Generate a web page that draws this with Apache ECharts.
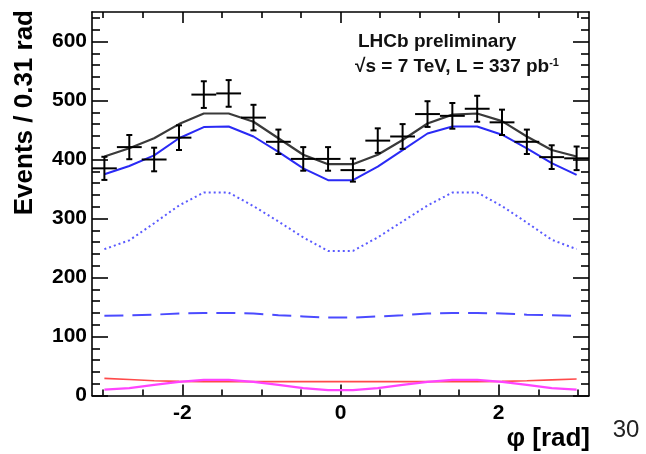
<!DOCTYPE html>
<html><head><meta charset="utf-8">
<script src="https://cdn.jsdelivr.net/npm/echarts@6/dist/echarts.min.js"></script>
<style>html,body{margin:0;padding:0;background:#fff}#c{width:646px;height:454px}</style>
</head><body><div id="c"></div>
<script>
const phiCenters = [-2.985,-2.670,-2.356,-2.042,-1.728,-1.414,-1.100,-0.785,-0.471,-0.157,0.157,0.471,0.785,1.100,1.414,1.728,2.042,2.356,2.670,2.985];
const binHalfWidth = 0.157;
const events = [385,421,400,437,510,512,471,430,401,401,382,432,439,477,474,486,463,430,404,402];
const eventErrors = [19.6,20.5,20,20.9,22.6,22.6,21.7,20.7,20,20,19.5,20.8,21,21.8,21.8,22,21.5,20.7,20.1,20];
const totalFit = [405,419,436,460,478,478,464,436,408,392,392,408,433,461,476,478,465,439,416,405];
const blueSolid = [375,389,407,436,455,456,439,413,385,365,365,388,416,444,456,456,442,419,394,374];
const blueDotted = [248,263,292,322,344,344,321,295,268,245,245,268,295,322,344,344,321,293,264,248];
const blueDashed = [135,136,137,139,140,140,139,136,134,132,132,134,136,139,140,140,139,137,136,135];
const redLine = [29,27,25,24,23.5,23.5,23.5,23.5,23.5,23.5,23.5,23.5,23.5,23.5,23.5,23.5,24,25,26.5,28];
const magentaLine = [10,12.5,18,23,26.5,26.5,23,18,12.5,9,9,12.5,18,23,26.5,26.5,23,18,12.5,10];
const xMajorTicks = [-2,0,2];
const xMinorTicks = [-3,-2.5,-1.5,-1,-0.5,0.5,1,1.5,2.5,3];
const yMajorTicks = [0,100,200,300,400,500,600];
const yMinorTicks = [20,40,60,80,120,140,160,180,220,240,260,280,320,340,360,380,420,440,460,480,520,540,560,580,620,640];
const xMin = -Math.PI, xMax = Math.PI, yMin = 0, yMax = 650;

const FONT = "'Liberation Sans', Arial, sans-serif";
const chart = echarts.init(document.getElementById('c'), null, {renderer:'canvas'});

function xAx(pos, ticks, len, showLine, labels){
  return {
    type:'value', position:pos, min:xMin, max:xMax,
    axisLine:{show:showLine, onZero:false, lineStyle:{color:'#000', width:1.6}},
    axisTick:{show:true, inside:true, length:len, customValues:ticks, lineStyle:{color:'#000', width:1.6}},
    axisLabel: labels ? {show:true, customValues:ticks, margin:7, color:'#000', fontSize:21, fontWeight:'bold', fontFamily:FONT} : {show:false},
    splitLine:{show:false}
  };
}
function yAx(pos, ticks, len, showLine, labels){
  return {
    type:'value', position:pos, min:yMin, max:yMax,
    axisLine:{show:showLine, onZero:false, lineStyle:{color:'#000', width:1.6}},
    axisTick:{show:true, inside:true, length:len, customValues:ticks, lineStyle:{color:'#000', width:1.6}},
    axisLabel: labels ? {show:true, customValues:ticks, margin:5, color:'#000', fontSize:21, fontWeight:'bold', fontFamily:FONT} : {show:false},
    splitLine:{show:false}
  };
}
function toPairs(arr){ return arr.map((v,i)=>[phiCenters[i], v]); }
function lineSeries(arr, color, width, type){
  return {type:'line', xAxisIndex:0, yAxisIndex:0, data:toPairs(arr), showSymbol:false, symbol:'none', smooth:false,
    lineStyle:{color:color, width:width, type:type||'solid'}, z:2};
}

const option = {
  animation:false,
  backgroundColor:'#fff',
  grid:{left:92, right:57, top:12, bottom:58.5, containLabel:false},
  xAxis:[
    xAx('bottom', xMajorTicks, 11, true, true),
    xAx('bottom', xMinorTicks, 6, false, false),
    xAx('top', xMajorTicks, 11, true, false),
    xAx('top', xMinorTicks, 6, false, false)
  ],
  yAxis:[
    yAx('left', yMajorTicks, 16, true, true),
    yAx('left', yMinorTicks, 8, false, false),
    yAx('right', yMajorTicks, 16, true, false),
    yAx('right', yMinorTicks, 8, false, false)
  ],
  series:[
    lineSeries(redLine, '#ff4a4a', 1.6),
    lineSeries(magentaLine, '#ff44ff', 2.2),
    lineSeries(blueDashed, '#4b4bff', 2, [19,9]),
    lineSeries(blueDotted, '#5a5aff', 2, [2,3]),
    lineSeries(blueSolid, '#2a2af5', 2),
    lineSeries(totalFit, '#3a3a3a', 2.2),
    {
      type:'custom', xAxisIndex:0, yAxisIndex:0, z:5,
      data: events.map((v,i)=>[phiCenters[i], v, eventErrors[i]]),
      renderItem:function(params, api){
        const x = api.value(0), y = api.value(1), e = api.value(2);
        const pL = api.coord([x-binHalfWidth, y]), pR = api.coord([x+binHalfWidth, y]);
        const pT = api.coord([x, y+e]), pB = api.coord([x, y-e]);
        const cap = 3;
        const st = {stroke:'#000', lineWidth:2, fill:null};
        return {type:'group', children:[
          {type:'line', shape:{x1:pL[0], y1:pL[1], x2:pR[0], y2:pR[1]}, style:st},
          {type:'line', shape:{x1:pT[0], y1:pT[1], x2:pB[0], y2:pB[1]}, style:st},
          {type:'line', shape:{x1:pT[0]-cap, y1:pT[1], x2:pT[0]+cap, y2:pT[1]}, style:st},
          {type:'line', shape:{x1:pB[0]-cap, y1:pB[1], x2:pB[0]+cap, y2:pB[1]}, style:st}
        ]};
      }
    }
  ],
  graphic:[
    {type:'text', x:25, y:10, rotation:Math.PI/2, style:{text:'Events / 0.31 rad', fill:'#000', font:"bold 26px 'Liberation Sans', Arial, sans-serif", textAlign:'right', textVerticalAlign:'middle'}},
    {type:'text', x:590, y:439, style:{text:'φ [rad]', fill:'#000', font:"bold 26px 'Liberation Sans', Arial, sans-serif", textAlign:'right', textVerticalAlign:'middle'}},
    {type:'text', x:358, y:42, style:{text:'LHCb preliminary', fill:'#111', font:"bold 19px 'Liberation Sans', Arial, sans-serif", textAlign:'left', textVerticalAlign:'middle'}},
    {type:'text', x:355, y:67, style:{text:'{a|√s = 7 TeV, L = 337 pb}{s|-1}', fill:'#111', font:"bold 19px 'Liberation Sans', Arial, sans-serif", textAlign:'left', textVerticalAlign:'middle',
      rich:{a:{fontSize:19, fontWeight:'bold', fontFamily:FONT, fill:'#111'}, s:{fontSize:11, fontWeight:'bold', fontFamily:FONT, fill:'#111', verticalAlign:'top', padding:[0,0,8,0]}}}},
    {type:'text', x:626, y:430, style:{text:'30', fill:'#222', font:"24px 'Liberation Sans', Arial, sans-serif", textAlign:'center', textVerticalAlign:'middle'}}
  ]
};
chart.setOption(option);
</script></body></html>
